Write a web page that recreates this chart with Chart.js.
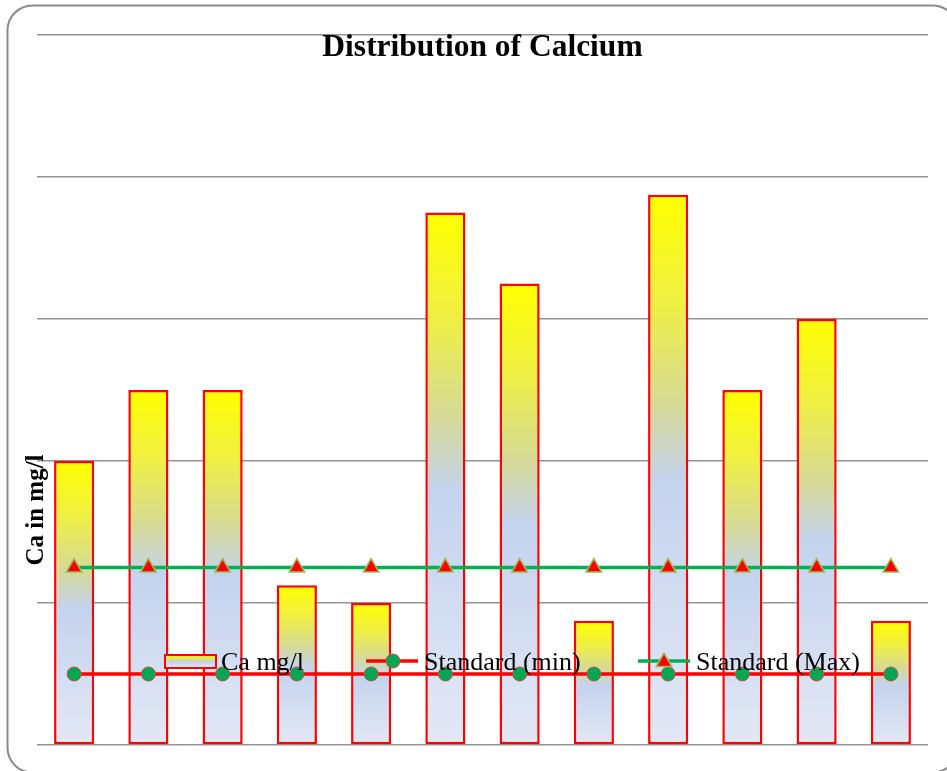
<!DOCTYPE html>
<html>
<head>
<meta charset="utf-8">
<title>Distribution of Calcium</title>
<script src="https://cdn.jsdelivr.net/npm/chart.js@4.4.1/dist/chart.umd.min.js"></script>
<style>
  html, body { margin: 0; padding: 0; background: #fff; }
  #wrap { width: 947px; height: 771px; }
</style>
</head>
<body>
<div id="wrap"><canvas id="ca-chart" width="947" height="771"></canvas></div>
<script>
// sampling sites (no labels shown on the original chart)
const sites = ['S1', 'S2', 'S3', 'S4', 'S5', 'S6', 'S7', 'S8', 'S9', 'S10', 'S11', 'S12'];
const caValues = [400, 500, 500, 225, 200, 750, 650, 175, 775, 500, 600, 175];
const standardMin = [100, 100, 100, 100, 100, 100, 100, 100, 100, 100, 100, 100];
const standardMax = [250, 250, 250, 250, 250, 250, 250, 250, 250, 250, 250, 250];
const yTicks = { min: 0, max: 1000, step: 200 };

const SERIF = '"Liberation Serif", "Times New Roman", serif';

function fillStops(g) {
    g.addColorStop(0, '#FFFF00');
    g.addColorStop(0.2, '#EFEF45');
    g.addColorStop(0.38, '#D6DA95');
    g.addColorStop(0.52, '#C4D3EE');
    g.addColorStop(1, '#E3E8F5');
    return g;
}

// each bar gets its own yellow-to-blue gradient
function barFill(context) {
    const chart = context.chart;
    if (!chart.chartArea || context.type !== 'data') return '#FFFF00';
    const y = chart.scales.y;
    const top = y.getPixelForValue(context.raw);
    const base = y.getPixelForValue(0);
    return fillStops(chart.ctx.createLinearGradient(0, top, 0, base));
}

const frameAndText = {
    id: 'frameAndText',
    beforeDraw(chart) {
        const ctx = chart.ctx;
        ctx.save();
        ctx.strokeStyle = '#8a8a8a';
        ctx.lineWidth = 2;
        ctx.beginPath();
        ctx.roundRect(7.5, 5.5, 950, 767, 25);
        ctx.stroke();
        ctx.restore();
    },
    afterDraw(chart) {
        const ctx = chart.ctx;
        const area = chart.chartArea;
        ctx.save();
        ctx.fillStyle = '#000';

        // title
        ctx.font = 'bold 31.5px ' + SERIF;
        ctx.textAlign = 'center';
        ctx.textBaseline = 'alphabetic';
        ctx.fillText('Distribution of Calcium', (area.left + area.right) / 2, 56);

        // y axis title
        ctx.save();
        ctx.translate(43, 510);
        ctx.rotate(-Math.PI / 2);
        ctx.font = 'bold 25px ' + SERIF;
        ctx.fillText('Ca in mg/l', 0, 0);
        ctx.restore();

        // legend, sitting inside the plot
        const ds = chart.data.datasets;
        const ly = 661;
        ctx.textAlign = 'left';
        ctx.font = '26px ' + SERIF;

        // Ca box
        const g = fillStops(ctx.createLinearGradient(0, 655, 0, 668));
        ctx.fillStyle = g;
        ctx.fillRect(165, 655, 51, 13);
        ctx.strokeStyle = ds[0].borderColor;
        ctx.lineWidth = 2;
        ctx.strokeRect(165, 655, 51, 13);
        ctx.fillStyle = '#000';
        ctx.fillText(ds[0].label, 221, 670);

        // Standard (min)
        ctx.strokeStyle = ds[1].borderColor;
        ctx.lineWidth = ds[1].borderWidth;
        ctx.beginPath();
        ctx.moveTo(366, ly);
        ctx.lineTo(418, ly);
        ctx.stroke();
        ctx.fillStyle = ds[1].pointBackgroundColor;
        ctx.strokeStyle = ds[1].pointBorderColor;
        ctx.lineWidth = 1;
        Chart.helpers.drawPoint(ctx, { pointStyle: 'circle', radius: ds[1].pointRadius, borderWidth: 1 }, 393, ly);
        ctx.fillStyle = '#000';
        ctx.fillText(ds[1].label, 424, 670);

        // Standard (Max)
        ctx.strokeStyle = ds[2].borderColor;
        ctx.lineWidth = ds[2].borderWidth;
        ctx.beginPath();
        ctx.moveTo(638, ly);
        ctx.lineTo(690, ly);
        ctx.stroke();
        ctx.fillStyle = ds[2].pointBackgroundColor;
        ctx.strokeStyle = ds[2].pointBorderColor;
        ctx.lineWidth = 1.5;
        Chart.helpers.drawPoint(ctx, { pointStyle: 'triangle', radius: ds[2].pointRadius, borderWidth: 1.5 }, 664, ly + 1);
        ctx.fillStyle = '#000';
        ctx.fillText(ds[2].label, 696, 670);

        ctx.restore();
    }
};

new Chart(document.getElementById('ca-chart'), {
    data: {
        labels: sites,
        datasets: [
            {
                type: 'bar',
                label: 'Ca mg/l',
                data: caValues,
                backgroundColor: barFill,
                borderColor: '#FF0000',
                borderWidth: 2.5,
                borderSkipped: false,
                barPercentage: 0.54,
                categoryPercentage: 1,
                order: 3
            },
            {
                type: 'line',
                label: 'Standard (min)',
                data: standardMin,
                borderColor: '#FF0000',
                borderWidth: 3.5,
                pointStyle: 'circle',
                pointRadius: 7,
                pointBackgroundColor: '#00A651',
                pointBorderColor: '#C0504D',
                pointBorderWidth: 1,
                fill: false,
                order: 2
            },
            {
                type: 'line',
                label: 'Standard (Max)',
                data: standardMax,
                borderColor: '#00B050',
                borderWidth: 3.5,
                pointStyle: 'triangle',
                pointRadius: 9,
                pointBackgroundColor: '#FF0000',
                pointBorderColor: '#9BBB59',
                pointBorderWidth: 1.5,
                fill: false,
                order: 1
            }
        ]
    },
    options: {
        responsive: false,
        devicePixelRatio: 1,
        animation: false,
        layout: {
            padding: { left: 37, right: 19, top: 35, bottom: 26 }
        },
        plugins: {
            legend: { display: false },
            title: { display: false },
            tooltip: { enabled: false }
        },
        scales: {
            x: {
                display: false,
                offset: true
            },
            y: {
                min: yTicks.min,
                max: yTicks.max,
                ticks: { display: false, stepSize: yTicks.step },
                border: { display: false },
                grid: {
                    color: '#949494',
                    lineWidth: 1.5,
                    drawTicks: false
                }
            }
        }
    },
    plugins: [frameAndText]
});
</script>
</body>
</html>
